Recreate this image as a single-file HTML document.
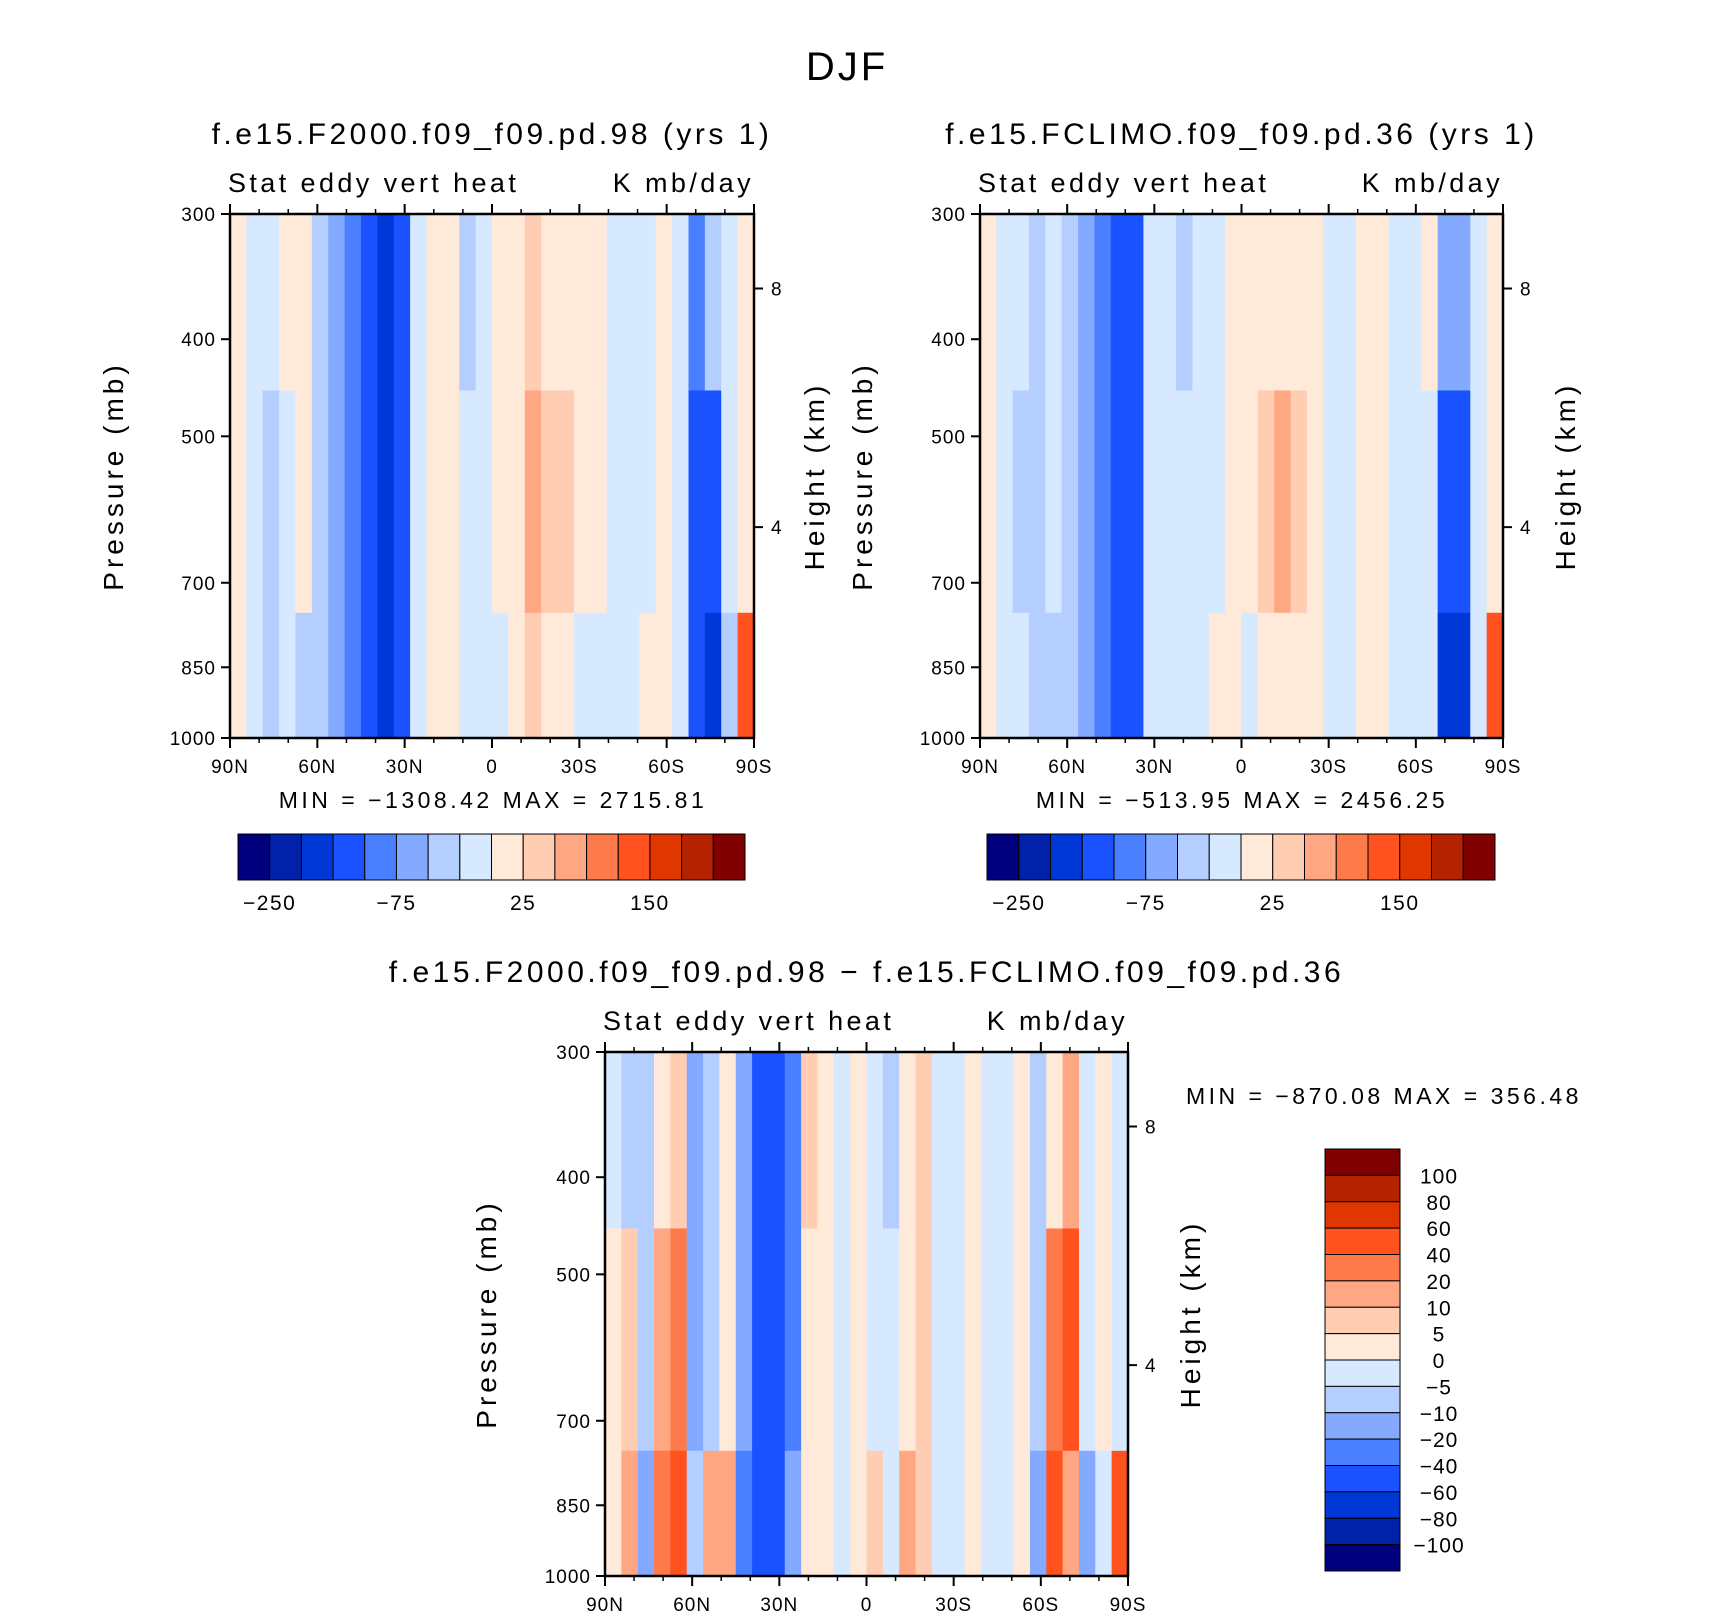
<!DOCTYPE html>
<html><head><meta charset="utf-8">
<style>
html,body{margin:0;padding:0;background:#fff;}
svg text{font-family:"Liberation Sans",sans-serif;fill:#000;}
</style></head>
<body>
<svg id="fig" width="1710" height="1616" xmlns="http://www.w3.org/2000/svg">
<text x="847" y="80" font-size="40" text-anchor="middle" letter-spacing="3">DJF</text>
<g id="g1"></g>
<g id="g2"></g>
<g id="g3"></g>
</svg>
<script>
const colors=["#00007f","#0022a8","#0038d8","#1a52ff","#4a80ff","#84aaff","#b4ceff","#d6e9ff","#ffe9d9","#ffcdb2","#ffa783","#ff7a4a","#ff521e","#e03600","#b42200","#7f0000"];
const latTicks=["90N","60N","30N","0","30S","60S","90S"];
const presTicks=[300,400,500,700,850,1000];
const heightTicks=[8,4];
const heightP=[356,616];
// column class indices (32 lat columns from 90N to 90S), three pressure bands
const p1Top=[8,7,7,8,8,6,5,4,3,2,3,7,8,8,6,7,8,8,9,8,8,8,8,7,7,7,8,7,4,6,7,8];
const p1Mid=[8,7,6,7,8,6,5,4,3,2,3,7,8,8,7,7,8,8,10,9,9,8,8,7,7,7,8,7,3,3,7,8];
const p1Bot=[8,7,6,7,6,6,5,4,3,2,3,7,8,8,7,7,7,8,9,8,8,7,7,7,7,8,8,7,3,2,6,12];
const p2Top=[8,7,7,6,7,6,5,4,3,3,7,7,6,7,7,8,8,8,8,8,8,7,7,8,8,7,7,8,5,5,7,8];
const p2Mid=[8,7,6,6,7,6,5,4,3,3,7,7,7,7,7,8,8,9,10,9,8,7,7,8,8,7,7,7,3,3,7,8];
const p2Bot=[8,7,7,6,6,6,5,4,3,3,7,7,7,7,8,8,7,8,8,8,8,7,7,8,8,7,7,7,2,2,7,12];
const p3Top=[7,6,6,8,9,5,6,8,5,3,3,4,9,8,7,8,7,6,8,9,7,7,8,7,7,8,6,8,10,7,8,7];
const p3Mid=[8,9,6,10,11,5,6,8,5,3,3,4,8,8,7,8,7,7,8,9,7,7,8,7,7,8,6,11,12,7,8,7];
const p3Bot=[8,10,5,11,12,6,10,10,4,3,3,5,8,8,7,8,9,7,10,9,7,7,8,7,7,8,5,12,10,5,7,12];
const cb1Labels=["-250","-75","25","150"];
const cb3Labels=["100","80","60","40","20","10","5","0","\u22125","\u221210","\u221220","\u221240","\u221260","\u221280","\u2212100"];
const NS="http://www.w3.org/2000/svg";
function mk(parent,tag,attrs,txt){const e=document.createElementNS(NS,tag);for(const k in attrs)e.setAttribute(k,attrs[k]);if(txt!==undefined)e.textContent=txt;parent.appendChild(e);return e;}
function yScale(p,y0,h){return y0+h*Math.log(p/300)/Math.log(1000/300);}
function panel(g,x0,y0,w,h,top,mid,bot,title,minmax,mmX,mmY,mmAnchor,presX,htX){
  const n=top.length,cw=w/n;
  const yA=yScale(450,y0,h),yB=yScale(750,y0,h);
  for(let i=0;i<n;i++){
    const x=x0+i*cw;
    let r=mk(g,"rect",{x:x,y:y0,width:cw+0.6,height:yA-y0+0.6,fill:colors[top[i]]});
    
    
    r=mk(g,"rect",{x:x,y:yA,width:cw+0.6,height:yB-yA+0.6,fill:colors[mid[i]]});
    
    
    r=mk(g,"rect",{x:x,y:yB,width:cw+0.6,height:y0+h-yB,fill:colors[bot[i]]});
    
    
  }
  let f=mk(g,"rect",{x:x0,y:y0,width:w,height:h,fill:"none",stroke:"#000","stroke-width":2.5});
  
  
  presTicks.forEach(p=>{const y=yScale(p,y0,h);
    mk(g,"line",{x1:x0-9,x2:x0,y1:y,y2:y,stroke:"#000","stroke-width":2});
    const t=mk(g,"text",{x:x0-14,y:y+7,"font-size":19,"text-anchor":"end","letter-spacing":1},String(p));
    
    });
  heightTicks.forEach((v,i)=>{const y=yScale(heightP[i],y0,h);
    mk(g,"line",{x1:x0+w,x2:x0+w+9,y1:y,y2:y,stroke:"#000","stroke-width":2});
    const t=mk(g,"text",{x:x0+w+17,y:y+7,"font-size":19},String(v));
    
    });
  latTicks.forEach((l,i)=>{const x=x0+w*i/6;
    mk(g,"line",{x1:x,x2:x,y1:y0+h,y2:y0+h+10,stroke:"#000","stroke-width":2});
    mk(g,"line",{x1:x,x2:x,y1:y0,y2:y0-10,stroke:"#000","stroke-width":2});
    const t=mk(g,"text",{x:x,y:y0+h+35,"font-size":19,"text-anchor":"middle","letter-spacing":1},l);
    
    });
  for(let i=0;i<=18;i++){if(i%3===0)continue;const x=x0+w*i/18;
    mk(g,"line",{x1:x,x2:x,y1:y0+h,y2:y0+h+5,stroke:"#000","stroke-width":1.5});
    mk(g,"line",{x1:x,x2:x,y1:y0,y2:y0-5,stroke:"#000","stroke-width":1.5});}
  let t=mk(g,"text",{x:x0+w/2,y:y0-70,"font-size":30,"text-anchor":"middle","letter-spacing":3.5},title);
  
  t=mk(g,"text",{x:x0-2,y:y0-22,"font-size":27,"letter-spacing":3.4},"Stat  eddy  vert  heat");
  
  t=mk(g,"text",{x:x0+w,y:y0-22,"font-size":27,"text-anchor":"end","letter-spacing":3.4},"K  mb/day");
  
  t=mk(g,"text",{x:mmX,y:mmY,"font-size":23,"text-anchor":mmAnchor,"letter-spacing":3.5},minmax);
  
  const cy=y0+h/2;
  t=mk(g,"text",{x:presX,y:cy,"font-size":28,"text-anchor":"middle",transform:`rotate(-90 ${presX} ${cy})`,"letter-spacing":4},"Pressure  (mb)");
  
  t=mk(g,"text",{x:htX,y:cy,"font-size":28,"text-anchor":"middle",transform:`rotate(-90 ${htX} ${cy})`,"letter-spacing":4},"Height  (km)");
  
}
function hbar(g,x0,y0,w,h){
  const bw=w/16;
  colors.forEach((c,i)=>{const r=mk(g,"rect",{x:x0+i*bw,y:y0,width:bw,height:h,fill:c,stroke:"#000","stroke-width":1});
    });
  cb1Labels.forEach((l,i)=>{const t=mk(g,"text",{x:x0+bw*(1+4*i),y:y0+h+30,"font-size":21,"text-anchor":"middle","letter-spacing":1.5},l.replace("-","\u2212"));
    });
}
const g1=document.getElementById("g1"),g2=document.getElementById("g2"),g3=document.getElementById("g3");
panel(g1,230,214,524,524,p1Top,p1Mid,p1Bot,"f.e15.F2000.f09_f09.pd.98  (yrs  1)","MIN  =  \u22121308.42    MAX  =  2715.81",493,808,"middle",123,824);
panel(g2,980,214,523,524,p2Top,p2Mid,p2Bot,"f.e15.FCLIMO.f09_f09.pd.36  (yrs  1)","MIN  =  \u2212513.95    MAX  =  2456.25",1242,808,"middle",872,1575);
panel(g3,605,1052,523,524,p3Top,p3Mid,p3Bot,"f.e15.F2000.f09_f09.pd.98  \u2212  f.e15.FCLIMO.f09_f09.pd.36","MIN  =  \u2212870.08    MAX  =  356.48",1186,1104,"start",496,1200);
hbar(g1,238,834,507,46);
hbar(g2,987,834,508,46);
(function(){const x0=1325,y0=1149,w=75,h=422,bh=h/16;
  colors.slice().reverse().forEach((c,i)=>{const r=mk(g3,"rect",{x:x0,y:y0+i*bh,width:w,height:bh,fill:c,stroke:"#000","stroke-width":1});
    });
  cb3Labels.forEach((l,i)=>{const t=mk(g3,"text",{x:1439,y:y0+bh*(i+1)+8,"font-size":21,"text-anchor":"middle","letter-spacing":1},l);
    });
})();
</script>
</body></html>
